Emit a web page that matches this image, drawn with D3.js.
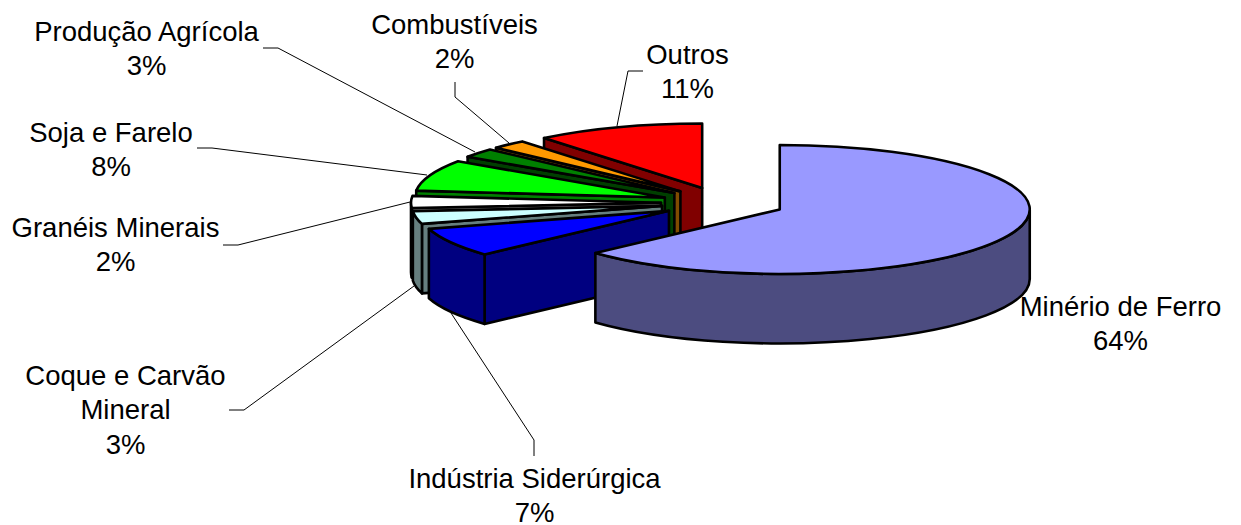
<!DOCTYPE html>
<html><head><meta charset="utf-8">
<style>html,body{margin:0;padding:0;background:#fff}svg{display:block}text{font-family:"Liberation Sans",Arial,sans-serif;font-size:27.5px;fill:#000}</style>
<script src="https://cdnjs.cloudflare.com/ajax/libs/d3/7.8.5/d3.min.js"></script>
</head><body><script>
const categories=["Minério de Ferro","Indústria Siderúrgica","Coque e Carvão Mineral","Granéis Minerais","Soja e Farelo","Produção Agrícola","Combustíveis","Outros"];
const values=[63.2,7.3,3.2,3.0,7.8,2.3,2.3,10.9];
const percentLabels=["64%","7%","3%","2%","8%","3%","2%","11%"];
const topColors=["#9999FF","#0000FF","#CCFFFF","#FFFFFF","#00FF00","#008000","#FF9900","#FF0000"];
const sideColors=["#4C4C80","#000080","#667F7F","#808080","#008000","#004000","#804C00","#800000"];
const labelLines=[["Minério de Ferro"],["Indústria Siderúrgica"],["Coque e Carvão","Mineral"],["Granéis Minerais"],["Soja e Farelo"],["Produção Agrícola"],["Combustíveis"],["Outros"]];
const labelCenters=[[1120.5,316],[534.5,488],[125.5,385],[115.5,237],[111,142],[146.5,41],[454.5,34],[687.5,64]];
const leaderElbows=[null,[[534,456],[534,440]],[[229,410],[244,410]],[[223,245],[238,245]],[[197,148],[212,148]],[[263,48],[278,48]],[[455,82],[455,97]],[[643,71],[628,71]]];
const leaderEnds=[null,[451,313],[414,286],[410,202],[427,175],[475,152],[509,143],[617,126]];

const W=1241,H=525,cx=723,cy=203,rx=250,ry=64.5,depth=69.5,explode=62;
const svg=d3.select("body").append("svg").attr("width",W).attr("height",H);
const sx=d3.scaleLinear().domain([-1,1]).range([-rx,rx]);
const sy=d3.scaleLinear().domain([-1,1]).range([-ry,ry]);
const pie=d3.pie().sort(null).value(d=>d);
const arcs=pie(values).map((a,i)=>{
  const mid=(a.startAngle+a.endAngle)/2;
  return {i,a0:a.startAngle,a1:a.endAngle,ax:cx+sx(Math.sin(mid))*explode/rx,ay:cy-sy(Math.cos(mid))*explode/rx};
});
const pt=(s,t)=>[s.ax+sx(Math.sin(t)),s.ay-sy(Math.cos(t))];
const ell=(p,sweep,large)=>`A${rx},${ry} 0 ${large?1:0} ${sweep?1:0} ${p[0]},${p[1]}`;
const g=svg.append("g");
function drawFace(d,fill){g.append("path").attr("d",d).attr("fill",fill).attr("stroke","#000").attr("stroke-width",2.6).attr("stroke-linejoin","round");}

const line=d3.line();
leaderElbows.forEach((e,i)=>{ if(!e)return;
  svg.append("path").attr("d",line([...e,leaderEnds[i]])).attr("fill","none").attr("stroke","#000").attr("stroke-width",1);
});

[...arcs].reverse().forEach(s=>{
  const side=sideColors[s.i], top=topColors[s.i];
  const A=[s.ax,s.ay], p0=pt(s,s.a0), p1=pt(s,s.a1);
  const face=(p)=>`M${A[0]},${A[1]}L${p[0]},${p[1]}L${p[0]},${p[1]+depth}L${A[0]},${A[1]+depth}Z`;
  if(s.a0>Math.PI/2 && s.a0<1.999*Math.PI) drawFace(face(p0),side);
  const r0=Math.max(s.a0,Math.PI/2), r1=Math.min(s.a1,1.5*Math.PI);
  if(r1>r0){
    const q0=pt(s,r0), q1=pt(s,r1);
    drawFace(`M${q0[0]},${q0[1]}${ell(q1,true,false)}L${q1[0]},${q1[1]+depth}${ell([q0[0],q0[1]+depth],false,false)}Z`,side);
  }
  const large=(s.a1-s.a0)>Math.PI;
  drawFace(`M${A[0]},${A[1]}L${p0[0]},${p0[1]}${ell(p1,true,large)}Z`,top);
});

categories.forEach((c,i)=>{
  const t=svg.append("text").attr("text-anchor","middle");
  [...labelLines[i],percentLabels[i]].forEach((l,k)=>{
    t.append("tspan").attr("x",labelCenters[i][0]).attr("y",labelCenters[i][1]+k*34.3).text(l);
  });
});
</script></body></html>
